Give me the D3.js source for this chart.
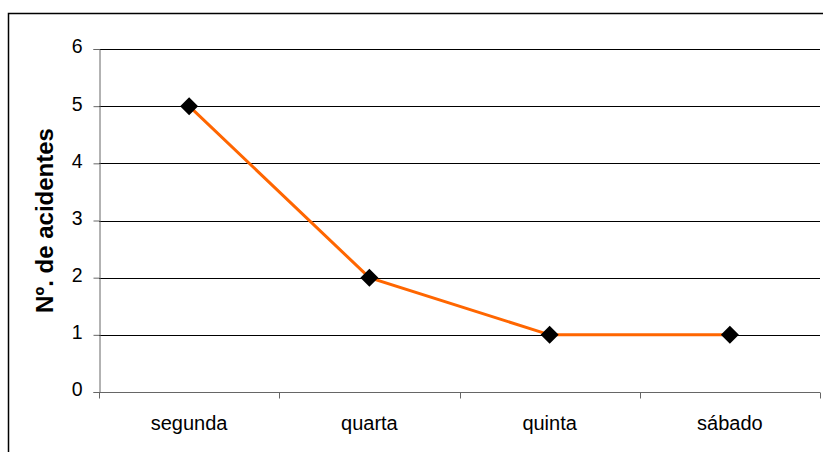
<!DOCTYPE html>
<html>
<head>
<meta charset="utf-8">
<script src="https://cdn.jsdelivr.net/npm/d3@7"></script>
<style>
  html, body { margin: 0; padding: 0; background: #fff; }
  svg { display: block; font-family: "Liberation Sans", Arial, sans-serif; }
</style>
</head>
<body>
<svg id="chart" width="823" height="452"></svg>
<script>
// Number of accidents per weekday
const days = ["segunda", "quarta", "quinta", "sábado"];
const accidents = [5, 2, 1, 1];
const yTicks = [0, 1, 2, 3, 4, 5, 6];
const yTitle = "Nº. de acidentes";

const svg = d3.select("#chart");
const W = 823, H = 452;
const plot = { left: 99, right: 820, top: 49, bottom: 392 };
const FONT = "Liberation Sans, Arial, sans-serif";

// Outer frame of the chart area (extends past the right and bottom edges)
svg.append("rect")
  .attr("x", 8.5).attr("y", 13.5)
  .attr("width", W + 10).attr("height", H + 10)
  .attr("fill", "#fff").attr("stroke", "#000").attr("stroke-width", 1.5);

const x = d3.scaleBand().domain(days).range([plot.left, plot.right]).padding(0);
const y = d3.scaleLinear().domain([0, 6]).range([plot.bottom, plot.top]);

// Horizontal gridlines
svg.append("g").selectAll("line")
  .data(yTicks.filter(d => d > 0))
  .join("line")
  .attr("x1", plot.left).attr("x2", plot.right)
  .attr("y1", d => Math.round(y(d)) + 0.5).attr("y2", d => Math.round(y(d)) + 0.5)
  .attr("stroke", "#000").attr("stroke-width", 1);

// Y axis
const yAxis = svg.append("g")
  .attr("transform", `translate(${plot.left + 0.5},0)`)
  .call(d3.axisLeft(y).tickValues(yTicks).tickFormat(d3.format("d")).tickSizeOuter(0).tickSize(6).tickPadding(11));
yAxis.attr("font-size", null).attr("font-family", null);
yAxis.select(".domain").attr("stroke", "#666");
yAxis.selectAll(".tick line").attr("stroke", "#666");
yAxis.selectAll(".tick text")
  .attr("font-size", 19.5).attr("fill", "#000").attr("font-family", FONT)
  .attr("dy", "0.2em");

// X axis with ticks on category boundaries
const xAxis = svg.append("g")
  .attr("transform", `translate(0,${plot.bottom + 0.5})`)
  .call(d3.axisBottom(x).tickSize(0).tickPadding(23));
xAxis.attr("font-size", null).attr("font-family", null);
xAxis.select(".domain").attr("stroke", "#666").attr("d", `M${plot.left},0H${plot.right}`);
xAxis.selectAll(".tick text")
  .attr("font-size", 20).attr("fill", "#000").attr("font-family", FONT);

const bounds = days.map(d => x(d)).concat([x(days[days.length - 1]) + x.bandwidth()]);
xAxis.append("g").selectAll("line")
  .data(bounds)
  .join("line")
  .attr("x1", d => Math.round(d) + 0.5).attr("x2", d => Math.round(d) + 0.5)
  .attr("y1", 0).attr("y2", 6)
  .attr("stroke", "#666");

// Y title
svg.append("text")
  .attr("transform", `translate(53,${(plot.top + plot.bottom) / 2}) rotate(-90)`)
  .attr("text-anchor", "middle")
  .attr("font-family", FONT)
  .attr("font-size", 24).attr("font-weight", "bold")
  .text(yTitle);

// Series line
const cx = d => x(d) + x.bandwidth() / 2;
svg.append("path")
  .datum(days.map((d, i) => [cx(d), y(accidents[i])]))
  .attr("fill", "none").attr("stroke", "#FF6600").attr("stroke-width", 3)
  .attr("d", d3.line());

// Diamond markers
svg.append("g").selectAll("path")
  .data(days.map((d, i) => [cx(d), y(accidents[i])]))
  .join("path")
  .attr("transform", d => `translate(${d[0]},${d[1]})`)
  .attr("d", "M0,-9L9,0L0,9L-9,0Z")
  .attr("fill", "#000");
</script>
</body>
</html>
